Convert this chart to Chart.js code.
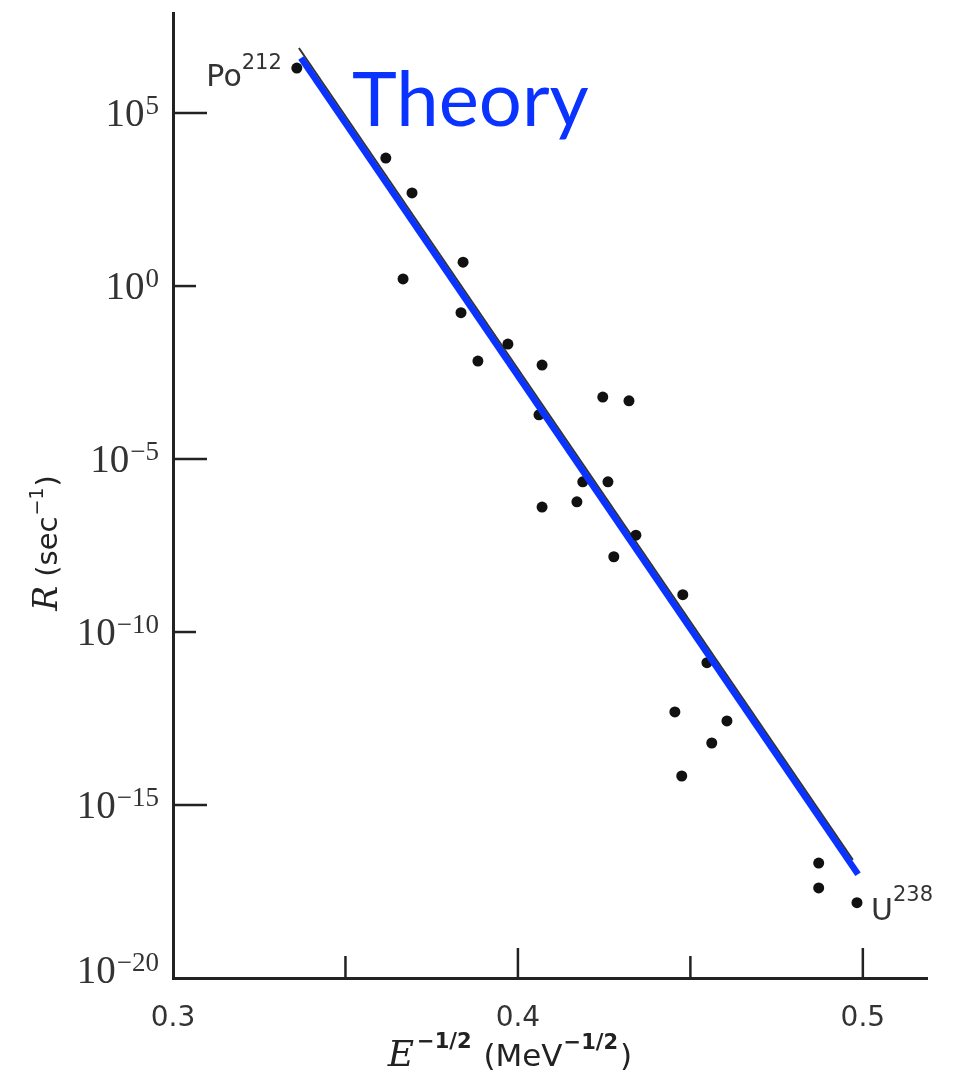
<!DOCTYPE html>
<html>
<head>
<meta charset="utf-8">
<script src="https://cdn.jsdelivr.net/npm/chart.js@4.4.0/dist/chart.umd.min.js"></script>
<style>
  html, body { margin: 0; padding: 0; background: #fff; }
</style>
</head>
<body>
<canvas id="decayChart" width="962" height="1077"></canvas>
<script>
// alpha decay rate vs E^-1/2 (measured points)
const invSqrtE = [0.3359, 0.3617, 0.3693, 0.3667, 0.3841, 0.3835, 0.3884, 0.3971, 0.4070,
  0.4061, 0.4246, 0.4322, 0.4188, 0.4261, 0.4171, 0.4070, 0.4342, 0.4278, 0.4478,
  0.4548, 0.4455, 0.4606, 0.4562, 0.4475, 0.4872, 0.4872, 0.4983];
const rate = [2.0e6, 5.0e3, 4.9e2, 1.6, 4.9, 1.7e-1, 6.8e-3, 2.1e-2, 5.2e-3,
  1.9e-4, 6.2e-4, 4.8e-4, 2.2e-6, 2.2e-6, 5.8e-7, 4.1e-7, 6.3e-8, 1.5e-8, 1.2e-9,
  1.3e-11, 4.9e-13, 2.7e-13, 6.2e-14, 6.9e-15, 2.1e-17, 4.0e-18, 1.5e-18];

// theory line (blue) and the original printed fit line under it
const theoryX = [0.3371, 0.4986];
const theoryR = [3.9e6, 1.0e-17];
const fitX = [0.3365, 0.4971];
const fitR = [7.6e6, 2.6e-17];

const xTicks = [0.3, 0.35, 0.4, 0.45, 0.5];
const xTickLabels = ["0.3", "", "0.4", "", "0.5"];
const yTickExp = [-20, -15, -10, -5, 0, 5];

const ink = "#222";
const blue = "#0a33ff";

// tick marks point into the plot
const inwardTicks = {
  id: "inwardTicks",
  beforeDatasetsDraw(chart) {
    const { ctx, chartArea: a, scales: { x, y } } = chart;
    ctx.save();
    ctx.strokeStyle = ink;
    ctx.lineWidth = 2.5;
    x.ticks.forEach((t, i) => {
      if (i === 0) return;
      const px = x.getPixelForValue(t.value);
      const len = xTickLabels[i] ? 30 : 22;
      ctx.beginPath();
      ctx.moveTo(px, a.bottom);
      ctx.lineTo(px, a.bottom - len);
      ctx.stroke();
    });
    y.ticks.forEach(t => {
      const e = Math.round(Math.log10(t.value));
      if (e === -20) return;
      const py = y.getPixelForValue(t.value);
      const len = e % 10 === 0 ? 23 : 34;
      ctx.beginPath();
      ctx.moveTo(a.left, py);
      ctx.lineTo(a.left + len, py);
      ctx.stroke();
    });
    ctx.restore();
  }
};

function drawRuns(ctx, runs, x0, y0) {
  let x = x0;
  runs.forEach(r => {
    ctx.font = r.font;
    ctx.fillText(r.text, x + (r.dx || 0), y0 + (r.dy || 0));
    x += ctx.measureText(r.text).width + (r.dx || 0);
  });
}
function runsWidth(ctx, runs) {
  return runs.reduce((w, r) => { ctx.font = r.font; return w + ctx.measureText(r.text).width + (r.dx || 0); }, 0);
}

const labels = {
  id: "labels",
  afterDraw(chart) {
    const { ctx, chartArea: a, scales: { x, y } } = chart;
    ctx.save();
    ctx.textBaseline = "alphabetic";

    // y tick labels 10^n with raised exponent
    ctx.fillStyle = "#333";
    y.ticks.forEach(t => {
      const e = Math.round(Math.log10(t.value));
      const py = y.getPixelForValue(t.value);
      const runs = [
        { text: "10", font: "39px 'Liberation Serif'" },
        { text: (e < 0 ? "\u2212" : "") + Math.abs(e), font: "27px 'Liberation Serif'", dy: -12, dx: 1 }
      ];
      const base = e === -20 ? py + 5 : py + 13;
      drawRuns(ctx, runs, a.left - 14 - runsWidth(ctx, runs), base);
    });

    // Po212 next to first point
    const p0x = x.getPixelForValue(invSqrtE[0]), p0y = y.getPixelForValue(rate[0]);
    const poRuns = [
      { text: "Po", font: "30px 'DejaVu Sans'" },
      { text: "212", font: "21px 'DejaVu Sans'", dy: -17 }
    ];
    drawRuns(ctx, poRuns, p0x - 15 - runsWidth(ctx, poRuns), p0y + 18);

    // U238 next to last point
    const n = invSqrtE.length - 1;
    const pnx = x.getPixelForValue(invSqrtE[n]), pny = y.getPixelForValue(rate[n]);
    drawRuns(ctx, [
      { text: "U", font: "30px 'DejaVu Sans'" },
      { text: "238", font: "21px 'DejaVu Sans'", dy: -19 }
    ], pnx + 14, pny + 17);

    // Theory
    ctx.fillStyle = blue;
    ctx.font = "76px Lato";
    ctx.fillText("Theory", x.getPixelForValue(0.3519), y.getPixelForValue(Math.pow(10, 4.62)));

    // axis titles
    ctx.fillStyle = ink;
    const xRuns = [
      { text: "E", font: "italic 36px 'DejaVu Serif'" },
      { text: "\u22121/2", font: "bold 21px 'DejaVu Sans'", dy: -18, dx: 3 },
      { text: " (MeV", font: "31px 'DejaVu Sans'", dx: 2 },
      { text: "\u22121/2", font: "bold 21px 'DejaVu Sans'", dy: -17, dx: 1 },
      { text: ")", font: "31px 'DejaVu Sans'", dx: 2 }
    ];
    drawRuns(ctx, xRuns, 510 - runsWidth(ctx, xRuns) / 2, 1066);

    const yRuns = [
      { text: "R", font: "italic 33px 'DejaVu Serif'" },
      { text: " (sec", font: "29px 'DejaVu Sans'" },
      { text: "\u22121", font: "19px 'DejaVu Sans'", dy: -14, dx: 1 },
      { text: ")", font: "29px 'DejaVu Sans'", dx: 1 }
    ];
    ctx.translate(57, 543);
    ctx.rotate(-Math.PI / 2);
    drawRuns(ctx, yRuns, -runsWidth(ctx, yRuns) / 2, 0);
    ctx.restore();
  }
};

new Chart(document.getElementById("decayChart"), {
  type: "scatter",
  data: {
    datasets: [
      {
        data: invSqrtE.map((v, i) => ({ x: v, y: rate[i] })),
        pointRadius: 5.5,
        pointBackgroundColor: "#111",
        pointBorderWidth: 0,
        order: 1
      },
      {
        data: theoryX.map((v, i) => ({ x: v, y: theoryR[i] })),
        showLine: true,
        borderColor: blue,
        borderWidth: 6.5,
        pointRadius: 0,
        order: 0
      },
      {
        data: fitX.map((v, i) => ({ x: v, y: fitR[i] })),
        showLine: true,
        borderColor: "#333",
        borderWidth: 2,
        pointRadius: 0,
        order: 2
      }
    ]
  },
  options: {
    responsive: false,
    animation: false,
    devicePixelRatio: 1,
    layout: { padding: { left: 0, top: 13, right: 35, bottom: 0 } },
    plugins: { legend: { display: false }, tooltip: { enabled: false } },
    scales: {
      x: {
        type: "linear",
        min: 0.3,
        max: 0.5186,
        afterBuildTicks: s => { s.ticks = xTicks.map(v => ({ value: v })); },
        afterFit: s => { s.height = 99; s.paddingLeft = 0; s.paddingRight = 0; },
        grid: { display: false, drawTicks: false },
        border: { display: true, color: ink, width: 3 },
        ticks: {
          autoSkip: false,
          maxRotation: 0,
          padding: 24,
          color: "#333",
          font: { family: "'DejaVu Sans'", size: 28 },
          callback: (v, i) => xTickLabels[i]
        }
      },
      y: {
        type: "logarithmic",
        min: 1e-20,
        max: 7.8e7,
        afterBuildTicks: s => { s.ticks = yTickExp.map(e => ({ value: Math.pow(10, e) })); },
        afterFit: s => { s.width = 173; s.paddingTop = 0; s.paddingBottom = 0; },
        grid: { display: false, drawTicks: false },
        border: { display: true, color: ink, width: 3 },
        ticks: { display: false }
      }
    }
  },
  plugins: [inwardTicks, labels]
});
</script>
</body>
</html>
